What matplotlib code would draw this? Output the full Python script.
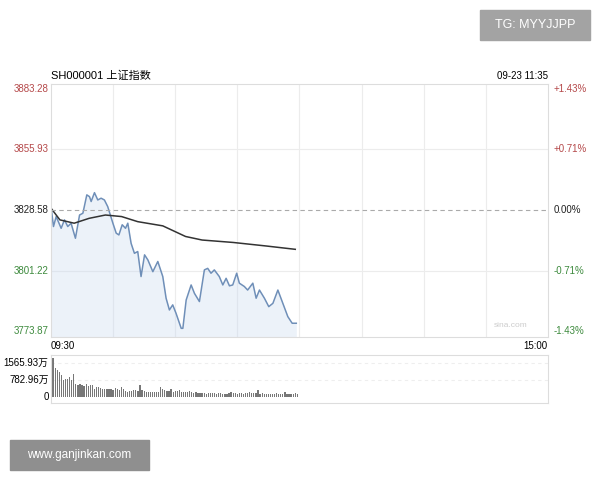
import numpy as np
import matplotlib.pyplot as plt
from matplotlib.patches import Rectangle

plt.rcParams['font.family'] = ['Liberation Sans', 'Noto Sans CJK SC', 'DejaVu Sans']

# price line (minute from 09:30, index value)
price_min = [0, 1.2, 2.5, 4.9, 6.5, 8.1, 9.7, 11.8, 13.8, 15.4, 17.3, 18.6, 19.4, 21.0, 22.6, 24.2,
             25.8, 27.4, 29.9, 31.5, 32.8, 34.4, 36.0, 37.1, 38.7, 40.3, 41.9, 43.5, 45.2, 46.8,
             49.2, 51.6, 54.0, 55.6, 57.2, 58.8, 60.4, 62.9, 63.7, 65.3, 67.7, 69.3, 71.7, 74.1,
             75.7, 77.3, 78.9, 81.3, 83.0, 84.6, 86.2, 87.8, 89.7, 91.0, 93.4, 95.0, 97.5, 99.1,
             100.7, 103.1, 105.2, 107.2, 109.6, 112.0, 114.4, 116.5, 118.5]
price_val = [3830.1, 3821.1, 3825.6, 3820.3, 3824.1, 3821.1, 3822.6, 3815.8, 3826.3, 3827.1, 3835.4,
             3834.6, 3832.4, 3836.4, 3833.1, 3833.9, 3833.1, 3830.1, 3822.6, 3818.1, 3817.3, 3821.9,
             3820.3, 3822.6, 3813.5, 3809.0, 3809.8, 3798.5, 3808.3, 3806.0, 3800.7, 3805.3, 3798.5,
             3788.7, 3783.4, 3785.7, 3781.9, 3775.1, 3775.1, 3787.9, 3794.7, 3790.9, 3787.2, 3801.5,
             3802.2, 3800.0, 3801.5, 3798.5, 3794.7, 3797.7, 3794.3, 3794.7, 3800.0, 3795.5, 3794.0,
             3792.4, 3795.5, 3788.7, 3792.4, 3788.7, 3784.9, 3786.4, 3792.4, 3786.4, 3780.4, 3777.4,
             3777.4]

# average price line
avg_min = [0, 4.3, 11.2, 18.4, 26.3, 34.1, 41.9, 54, 65, 73, 88, 104, 118]
avg_val = [3829.4, 3824.1, 3822.6, 3824.8, 3826.3, 3825.6, 3823.3, 3821.4, 3816.6, 3815.0,
           3813.9, 3812.3, 3810.8]

# volume per minute (万)
volume = [1800, 1350, 1250, 1150, 1000, 800, 820, 850, 950, 780, 1050, 620, 560, 600, 540, 520,
          600, 520, 540, 580, 400, 450, 480, 420, 380, 360, 380, 400, 360, 350, 420, 380, 350, 480,
          360, 300, 260, 280, 300, 320, 340, 300, 560, 340, 300, 250, 260, 260, 240, 260, 250, 240,
          480, 380, 320, 300, 280, 360, 260, 280, 300, 320, 220, 240, 260, 250, 300, 240, 200, 220,
          180, 200, 190, 180, 170, 190, 200, 180, 180, 170, 200, 190, 160, 170, 160, 180, 220, 180,
          200, 160, 180, 190, 170, 200, 180, 260, 200, 190, 200, 310, 170, 180, 160, 150, 170, 160,
          150, 170, 180, 160, 150, 170, 220, 160, 150, 170, 160, 180, 140]

prev_close = 3828.58
y_ticks = [3773.87, 3801.22, 3828.58, 3855.93, 3883.28]
pct_labels = ['-1.43%', '-0.71%', '0.00%', '+0.71%', '+1.43%']
red = '#b5494a'
green = '#3d8a3d'

fig = plt.figure(figsize=(6, 4.8), dpi=100)
fig.patch.set_facecolor('white')

ax = fig.add_axes([0.085, 0.298, 0.828, 0.527])
ax.set_xlim(0, 240)
ax.set_ylim(3771.2, 3885.5)
ax.plot(price_min, price_val, color='#6f8fb8', lw=1.1)
ax.fill_between(price_min, price_val, 3771.2, color='#c9daf0', alpha=0.35, lw=0)
ax.plot(avg_min, avg_val, color='#333333', lw=1.1)
ax.axhline(prev_close, color='#aaaaaa', lw=0.8, ls=(0, (4, 3)))
for x in range(30, 240, 30):
    ax.axvline(x, color='#ececec', lw=0.8, zorder=0)
for y in y_ticks[1:4]:
    if y != prev_close:
        ax.axhline(y, color='#ececec', lw=0.8, zorder=0)
ax.set_xticks([])
ax.set_yticks([])
for s in ax.spines.values():
    s.set_color('#dddddd')
    s.set_linewidth(0.8)

for y, p in zip(y_ticks, pct_labels):
    c = red if y > prev_close else (green if y < prev_close else '#222222')
    ax.text(-0.005, y, f'{y:.2f}', transform=ax.get_yaxis_transform(), ha='right', va='center',
            fontsize=7, color=c)
    ax.text(1.012, y, p, transform=ax.get_yaxis_transform(), ha='left', va='center',
            fontsize=7, color=c)

ax.text(0.0, 1.01, 'SH000001 上证指数', transform=ax.transAxes, ha='left', va='bottom', fontsize=8)
ax.text(1.0, 1.01, '09-23 11:35', transform=ax.transAxes, ha='right', va='bottom', fontsize=7)
ax.text(0.0, -0.015, '09:30', transform=ax.transAxes, ha='left', va='top', fontsize=7)
ax.text(1.0, -0.015, '15:00', transform=ax.transAxes, ha='right', va='top', fontsize=7)
ax.text(0.96, 0.03, 'sina.com', transform=ax.transAxes, ha='right', va='bottom', fontsize=6,
        color='#cccccc')

vax = fig.add_axes([0.085, 0.160, 0.828, 0.1])
vax.set_xlim(0, 240)
vax.set_ylim(-276, 1932)
vax.bar(np.arange(len(volume)) + 1, volume, width=0.6, color='#777777', lw=0)
vax.axhline(1565.93, color='#eeeeee', lw=0.8, ls=(0, (3, 3)), zorder=0)
vax.axhline(782.96, color='#eeeeee', lw=0.8, ls=(0, (3, 3)), zorder=0)
vax.set_xticks([])
vax.set_yticks([])
for s in vax.spines.values():
    s.set_color('#dddddd')
    s.set_linewidth(0.8)
for y, t in [(1565.93, '1565.93万'), (782.96, '782.96万'), (0, '0')]:
    vax.text(-0.005, y, t, transform=vax.get_yaxis_transform(), ha='right', va='center', fontsize=7)

# watermark boxes
fig.patches.append(Rectangle((480 / 600, 1 - 40 / 480), 110 / 600, 30 / 480,
                             transform=fig.transFigure, color='#a3a3a3'))
fig.text(535 / 600, 1 - 25 / 480, 'TG: MYYJJPP', ha='center', va='center', color='white', fontsize=9)
fig.patches.append(Rectangle((10 / 600, 1 - 470 / 480), 139 / 600, 30 / 480,
                             transform=fig.transFigure, color='#8f8f8f'))
fig.text(79 / 600, 1 - 455 / 480, 'www.ganjinkan.com', ha='center', va='center', color='white',
         fontsize=8.5)

fig.savefig('out.png', dpi=100)
